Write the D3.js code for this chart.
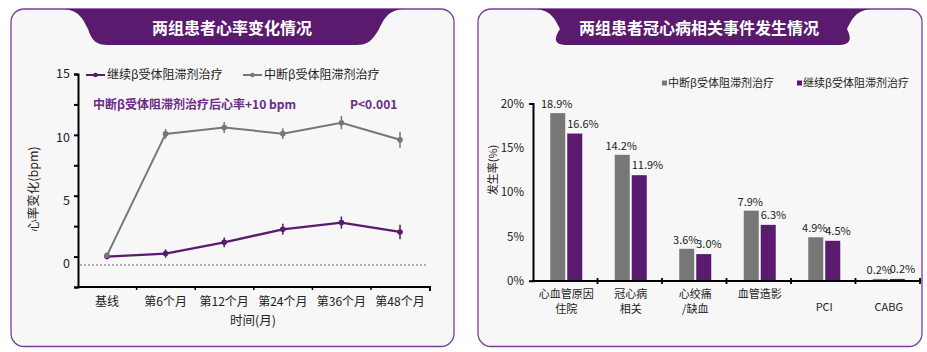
<!DOCTYPE html>
<html><head><meta charset="utf-8">
<script src="https://cdn.jsdelivr.net/npm/d3@7/dist/d3.min.js"></script>
<style>
body{margin:0;background:#fff;}
svg{display:block;font-family:"Noto Sans CJK SC","Noto Sans",sans-serif;}
</style></head>
<body><svg id="c" width="927" height="352"></svg>
<script>
// ---------- Data ----------
const titleLeft = "两组患者心率变化情况";
const titleRight = "两组患者冠心病相关事件发生情况";
const timePoints = ["基线","第6个月","第12个月","第24个月","第36个月","第48个月"];
const seriesContinue = [0, 0.25, 1.17, 2.24, 2.79, 2.02];
const errContinue    = [0, 0.35, 0.4, 0.45, 0.5, 0.6];
const seriesStop     = [0.1, 10.08, 10.6, 10.1, 11.0, 9.6];
const errStop        = [0, 0.4, 0.45, 0.45, 0.55, 0.65];
const nameContinue = "继续β受体阻滞剂治疗";
const nameStop = "中断β受体阻滞剂治疗";
const yTicksLeft = [-2.5, 0, 2.5, 5, 7.5, 10, 12.5, 15];
const yTickLabelsLeft = [0, 5, 10, 15];
const annotation = "中断β受体阻滞剂治疗后心率+10 bpm";
const pValue = "P<0.001";
const refLineValue = -0.7;

const eventCats = ["心血管原因\n住院","冠心病\n相关","心绞痛\n/缺血","血管造影","PCI","CABG"];
const eventStop = [18.9, 14.2, 3.6, 7.9, 4.9, 0.2];
const eventContinue = [16.6, 11.9, 3.0, 6.3, 4.5, 0.2];
const yTicksRight = [0, 5, 10, 15, 20];

// ---------- Styles ----------
const PURPLE = "#5a1a6e", GRAY = "#777777", BORDER = "#7a3d96", PANEL = "#f7f7f7";
const svg = d3.select("#c");

function panel(x0, x1, y0, y1, bt0, bb0, bb1, bt1, title, cx) {
  svg.append("rect").attr("x", x0).attr("y", y0).attr("width", x1 - x0).attr("height", y1 - y0)
    .attr("rx", 13).attr("fill", PANEL).attr("stroke", BORDER).attr("stroke-width", 1.3);
  const by = y0, bh = 45;
  const p = d3.path();
  p.moveTo(bt0, by);
  p.bezierCurveTo(bt0 + 18, by, bt0 + 22, by + 8, bt0 + 28, by + 20);
  p.bezierCurveTo(bb0 - 8, bh - 4, bb0 - 4, bh, bb0 + 8, bh);
  p.lineTo(bb1 - 8, bh);
  p.bezierCurveTo(bb1 + 4, bh, bb1 + 8, bh - 4, bt1 - 28, by + 20);
  p.bezierCurveTo(bt1 - 22, by + 8, bt1 - 18, by, bt1, by);
  p.closePath();
  svg.append("path").attr("d", p.toString()).attr("fill", PURPLE);
  svg.append("text").attr("x", cx).attr("y", 33.5).attr("text-anchor", "middle")
    .attr("fill", "#fff").attr("font-size", 16).attr("font-weight", "bold").text(title);
}
panel(11, 454, 9, 346.5, 60, 100, 364, 407, titleLeft, 232);
panel(478, 922, 9, 346.5, 532, 560, 845, 875, titleRight, 699);

// ---------- Left chart ----------
const xL = d3.scalePoint().domain(timePoints).range([107, 400]);
const yL = d3.scaleLinear().domain([-2.5, 15]).range([287, 74]);
const yLab = d3.scaleLinear().domain([0, 15]).range([264, 74]);
const gL = svg.append("g");

// reference dotted line
gL.append("line").attr("x1", 80).attr("x2", 428).attr("y1", yL(refLineValue)).attr("y2", yL(refLineValue))
  .attr("stroke", "#999").attr("stroke-width", 1.5).attr("stroke-dasharray", "2,2");

// y axis
const axL = d3.axisLeft(yL).tickValues(yTicksLeft).tickSize(4).tickSizeOuter(4).tickFormat("");
const gax = gL.append("g").attr("transform", "translate(78,0)").call(axL);
gax.selectAll("path,line").attr("stroke", "#000").attr("stroke-width", 2);
gL.selectAll(".ylab").data(yTickLabelsLeft).join("text")
  .attr("x", 70).attr("y", d => yLab(d)).attr("dy", "0.35em").attr("text-anchor", "end")
  .attr("font-size", 12.5).attr("fill", "#222").text(d => d);

// x axis
gL.append("line").attr("x1", 77).attr("x2", 430).attr("y1", 287).attr("y2", 287).attr("stroke", "#000").attr("stroke-width", 2);
gL.selectAll(".xt").data(timePoints.slice(1)).join("line")
  .attr("x1", d => xL(d) - 29).attr("x2", d => xL(d) - 29).attr("y1", 287).attr("y2", 290)
  .attr("stroke", "#000").attr("stroke-width", 1.5);
gL.append("line").attr("x1", 430).attr("x2", 430).attr("y1", 286).attr("y2", 291).attr("stroke", "#000").attr("stroke-width", 2);
gL.selectAll(".xl").data(timePoints).join("text")
  .attr("x", d => xL(d)).attr("y", 302).attr("dy", "0.35em").attr("text-anchor", "middle")
  .attr("font-size", 12).attr("fill", "#222").text(d => d);
gL.append("text").attr("x", 253).attr("y", 321).attr("dy", "0.35em").attr("text-anchor", "middle")
  .attr("font-size", 12.5).attr("fill", "#222").text("时间(月)");
gL.append("text").attr("transform", "translate(34,189) rotate(-90)").attr("dy", "0.35em")
  .attr("text-anchor", "middle").attr("font-size", 12.5).attr("fill", "#222").text("心率变化(bpm)");

function drawSeries(vals, errs, color, w) {
  const line = d3.line().x((d, i) => xL(timePoints[i])).y(d => yL(d));
  gL.append("path").datum(vals).attr("d", line).attr("fill", "none").attr("stroke", color).attr("stroke-width", w);
  gL.selectAll(null).data(vals).join("line")
    .attr("x1", (d, i) => xL(timePoints[i])).attr("x2", (d, i) => xL(timePoints[i]))
    .attr("y1", (d, i) => yL(d + errs[i])).attr("y2", (d, i) => yL(d - errs[i]))
    .attr("stroke", color).attr("stroke-width", 1.5);
  gL.selectAll(null).data(vals).join("circle")
    .attr("cx", (d, i) => xL(timePoints[i])).attr("cy", d => yL(d)).attr("r", 2.8).attr("fill", color);
}
drawSeries(seriesContinue, errContinue, PURPLE, 2.3);
drawSeries(seriesStop, errStop, GRAY, 2);

// legend left
function legLine(x, color, label) {
  gL.append("line").attr("x1", x).attr("x2", x + 19).attr("y1", 75).attr("y2", 75).attr("stroke", color).attr("stroke-width", 2);
  gL.append("circle").attr("cx", x + 9.5).attr("cy", 75).attr("r", 2.3).attr("fill", color);
  gL.append("text").attr("x", x + 21).attr("y", 75).attr("dy", "0.35em").attr("font-size", 12).attr("fill", "#222").text(label);
}
legLine(86, PURPLE, nameContinue);
legLine(243, GRAY, nameStop);
gL.append("text").attr("x", 93).attr("y", 105).attr("dy", "0.35em").attr("font-size", 12).attr("font-weight", "bold")
  .attr("fill", "#6a2a85").text(annotation);
gL.append("text").attr("x", 350).attr("y", 105).attr("dy", "0.35em").attr("font-size", 12).attr("font-weight", "bold")
  .attr("fill", "#6a2a85").text(pValue);

// ---------- Right chart ----------
const xR = d3.scaleBand().domain(eventCats).range([533, 920]);
const yR = d3.scaleLinear().domain([0, 20]).range([280.7, 103.4]);
const gR = svg.append("g");
const barW = 15, gap = 2;

const axR = d3.axisLeft(yR).tickValues(yTicksRight).tickSize(0).tickSizeOuter(4).tickFormat(d => d + "%").tickPadding(9);
const gaxR = gR.append("g").attr("transform", "translate(533,0)").call(axR);
gaxR.select("path").attr("stroke", "#000").attr("stroke-width", 2);
gaxR.selectAll("text").attr("font-size", 11.5).attr("fill", "#222").attr("font-family", "'Noto Sans CJK SC','Noto Sans',sans-serif");
gR.append("text").attr("transform", "translate(493,170) rotate(-90)").attr("dy", "0.35em")
  .attr("text-anchor", "middle").attr("font-size", 11).attr("fill", "#222").text("发生率(%)");

gR.selectAll(".gb").data(eventStop).join("rect")
  .attr("x", (d, i) => xR(eventCats[i]) + xR.bandwidth() / 2 - barW - gap / 2 + 1)
  .attr("y", d => yR(d)).attr("width", barW).attr("height", d => yR(0) - yR(d)).attr("fill", GRAY);
gR.selectAll(".pb").data(eventContinue).join("rect")
  .attr("x", (d, i) => xR(eventCats[i]) + xR.bandwidth() / 2 + gap / 2 + 1)
  .attr("y", d => yR(d)).attr("width", barW).attr("height", d => yR(0) - yR(d)).attr("fill", PURPLE);
gR.selectAll(".gl").data(eventStop).join("text")
  .attr("x", (d, i) => xR(eventCats[i]) + xR.bandwidth() / 2 - barW / 2 - gap / 2)
  .attr("y", d => yR(d) - 5).attr("text-anchor", "middle").attr("font-size", 11).attr("fill", "#222")
  .text(d => d.toFixed(1) + "%");
gR.selectAll(".pl").data(eventContinue).join("text")
  .attr("x", (d, i) => xR(eventCats[i]) + xR.bandwidth() / 2 + gap / 2 + 1)
  .attr("y", d => yR(d) - 6).attr("text-anchor", "start").attr("font-size", 11).attr("fill", "#222")
  .text(d => d.toFixed(1) + "%");

// x axis right
gR.append("line").attr("x1", 532).attr("x2", 921).attr("y1", 281).attr("y2", 281).attr("stroke", "#000").attr("stroke-width", 2.2);
gR.selectAll(".xt").data(eventCats).join("line")
  .attr("x1", d => xR(d) + xR.bandwidth()).attr("x2", d => xR(d) + xR.bandwidth())
  .attr("y1", 278).attr("y2", 284).attr("stroke", "#000").attr("stroke-width", 1.8);
eventCats.forEach(c => {
  const lines = c.split("\n");
  const cjk = /[\u4e00-\u9fff]/.test(c);
  const t = gR.append("text").attr("text-anchor", "middle").attr("font-size", 11).attr("fill", "#222");
  lines.forEach((l, j) => {
    t.append("tspan").attr("x", xR(c) + xR.bandwidth() / 2 + 1).attr("y", (cjk ? 294 : 307) + j * 15).attr("dy", "0.35em").text(l);
  });
});

// legend right
function legSq(x, color, label) {
  gR.append("rect").attr("x", x).attr("y", 80.5).attr("width", 5).attr("height", 5).attr("fill", color);
  gR.append("text").attr("x", x + 6).attr("y", 83).attr("dy", "0.35em").attr("font-size", 11).attr("fill", "#222").text(label);
}
legSq(662, GRAY, nameStop);
legSq(797, PURPLE, nameContinue);
</script></body></html>
